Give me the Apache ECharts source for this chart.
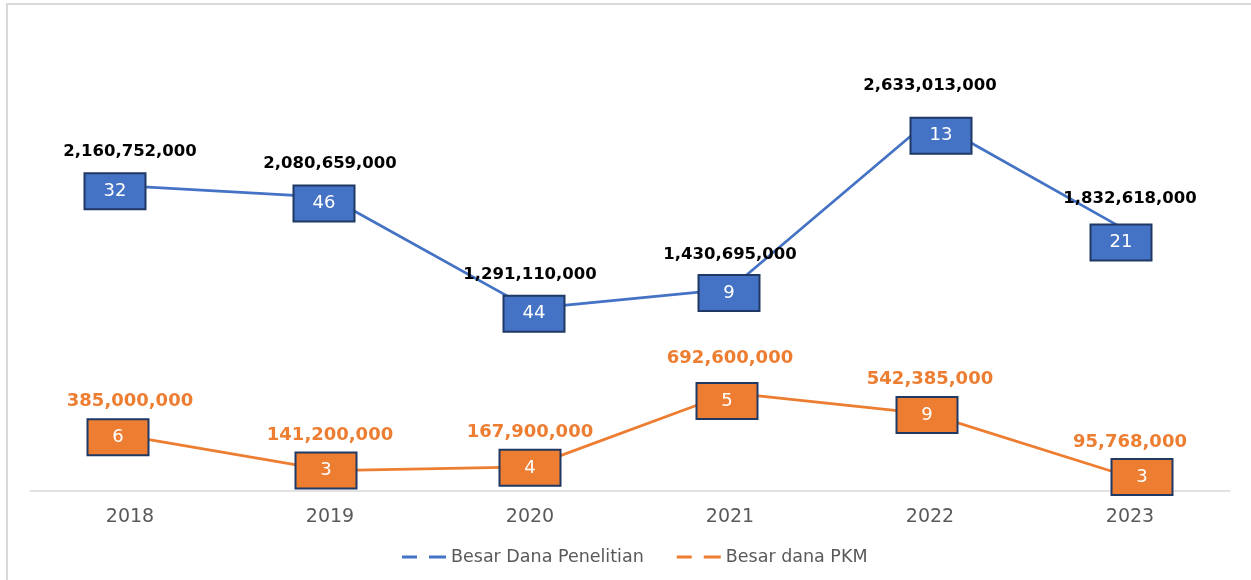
<!DOCTYPE html>
<html>
<head>
<meta charset="utf-8">
<script src="https://cdn.jsdelivr.net/npm/echarts@6/dist/echarts.min.js"></script>
<style>
html,body{margin:0;padding:0;background:#fff;}
#chart{width:1251px;height:580px;}
</style>
</head>
<body>
<div id="chart"></div>
<script>
// ---- data ----
const years = ['2018', '2019', '2020', '2021', '2022', '2023'];
const penelitianDana = [2160752000, 2080659000, 1291110000, 1430695000, 2633013000, 1832618000];
const penelitianJumlah = [32, 46, 44, 9, 13, 21];
const pkmDana = [385000000, 141200000, 167900000, 692600000, 542385000, 95768000];
const pkmJumlah = [6, 3, 4, 5, 9, 3];
const seriesNames = ['Besar Dana Penelitian', 'Besar dana PKM'];

// label nudges (manual label placement in the original)
const penelitianBoxNudge = [[-15, 5], [-6, 6], [4, 5], [-1, 4], [11, 16], [-9, 10]];
const pkmBoxNudge = [[-12, 1], [-4, 0], [0, 1], [-3, 8], [-3, 1], [12, 0]];

const BLUE = '#4472C4', ORANGE = '#ED7D31', NAVY = '#1F3864';

function fmt(v) {
  return String(v).replace(/\B(?=(\d{3})+(?!\d))/g, ',');
}

function boxData(values, counts, nudges) {
  return values.map((v, i) => ({
    value: v,
    label: { formatter: String(counts[i]), offset: nudges[i] }
  }));
}

function boxLabel(fill) {
  return {
    show: true,
    position: 'inside',
    color: '#fff',
    fontFamily: 'DejaVu Sans',
    fontSize: 18,
    backgroundColor: fill,
    borderColor: NAVY,
    borderWidth: 2,
    width: 59,
    height: 34,
    lineHeight: 34,
    align: 'center',
    verticalAlign: 'middle'
  };
}

const chart = echarts.init(document.getElementById('chart'), null, { renderer: 'canvas' });

chart.setOption({
  animation: false,
  backgroundColor: '#fff',
  graphic: [{
    type: 'rect',
    shape: { x: 7, y: 4, width: 1300, height: 640 },
    style: { fill: 'none', stroke: '#D9D9D9', lineWidth: 2 },
    silent: true, z: -10
  }],
  grid: { left: 30, right: 21, top: 68, height: 422.5 },
  legend: {
    data: seriesNames,
    left: 397,
    top: 543,
    itemGap: 33,
    itemWidth: 44,
    itemHeight: 3,
    icon: 'path://M0,0h15v3h-15z M27,0h17v3h-17z',
    textStyle: { color: '#595959', fontFamily: 'DejaVu Sans', fontSize: 17.5 }
  },
  xAxis: {
    type: 'category',
    data: years,
    boundaryGap: true,
    axisLine: { lineStyle: { color: '#D9D9D9', width: 1.5 } },
    axisTick: { show: false },
    axisLabel: { color: '#595959', fontFamily: 'DejaVu Sans', fontSize: 19, margin: 17 }
  },
  yAxis: {
    type: 'value',
    min: 0,
    max: 3000000000,
    show: false,
    splitLine: { show: false }
  },
  series: [
    {
      name: seriesNames[0],
      type: 'line',
      data: boxData(penelitianDana, penelitianJumlah, penelitianBoxNudge),
      symbol: 'circle',
      symbolSize: 2,
      itemStyle: { color: BLUE },
      lineStyle: { color: BLUE, width: 2.75 },
      label: boxLabel(BLUE),
      z: 3
    },
    {
      name: seriesNames[1],
      type: 'line',
      data: boxData(pkmDana, pkmJumlah, pkmBoxNudge),
      symbol: 'circle',
      symbolSize: 2,
      itemStyle: { color: ORANGE },
      lineStyle: { color: ORANGE, width: 2.75 },
      label: boxLabel(ORANGE),
      z: 3
    },
    {
      name: 'penelitianValue',
      type: 'scatter',
      data: penelitianDana,
      symbolSize: 1,
      itemStyle: { color: 'rgba(0,0,0,0)', opacity: 1 },
      label: {
        show: true, position: 'inside', offset: [0, -34],
        formatter: p => fmt(p.value),
        color: '#000', opacity: 1, fontFamily: 'DejaVu Sans', fontWeight: 'bold', fontSize: 16.5
      },
      z: 4
    },
    {
      name: 'pkmValue',
      type: 'scatter',
      data: pkmDana,
      symbolSize: 1,
      itemStyle: { color: 'rgba(0,0,0,0)', opacity: 1 },
      label: {
        show: true, position: 'inside', offset: [0, -35],
        formatter: p => fmt(p.value),
        color: ORANGE, opacity: 1, fontFamily: 'DejaVu Sans', fontWeight: 'bold', fontSize: 18
      },
      z: 4
    }
  ]
});
</script>
</body>
</html>
